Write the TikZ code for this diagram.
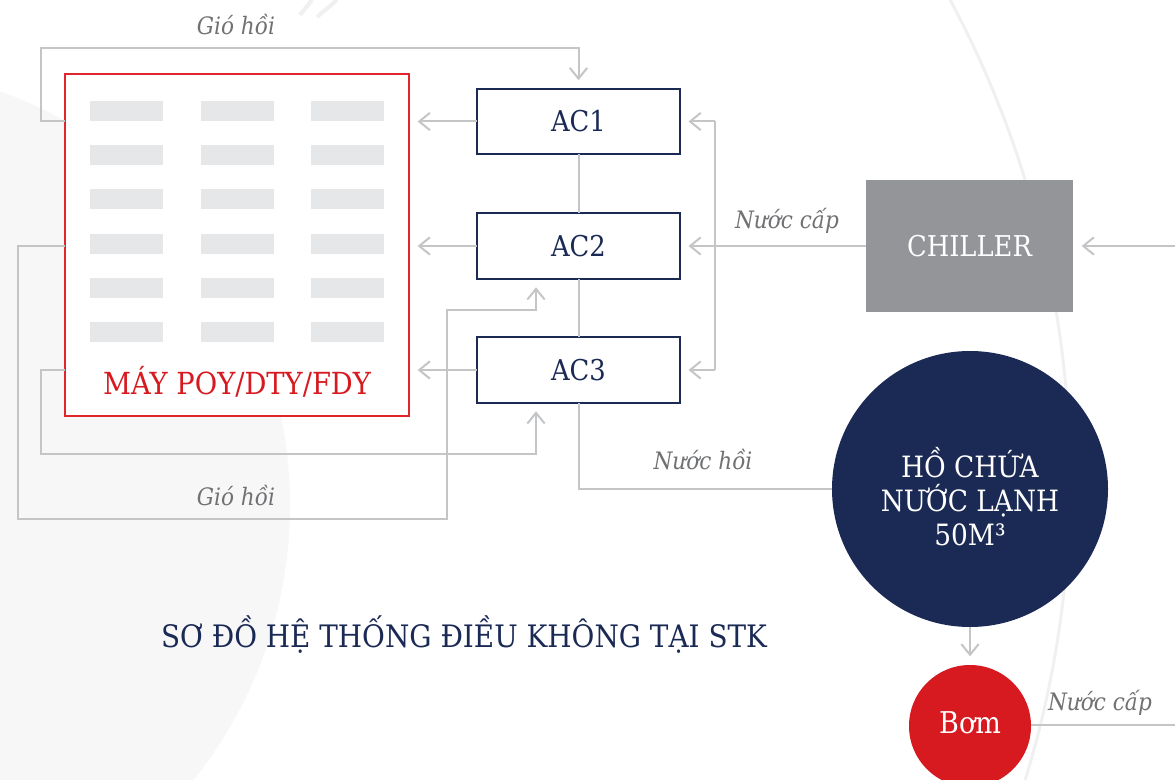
\documentclass[tikz,border=0pt]{standalone}
\usepackage{fontspec}
\setmainfont{DejaVu Serif}[FakeStretch=0.9]
\usetikzlibrary{arrows.meta,calc}
\definecolor{navy}{HTML}{1B2A55}
\definecolor{redc}{HTML}{D71920}
\definecolor{redbox}{HTML}{E1252D}
\definecolor{lineg}{HTML}{C4C5C7}
\definecolor{barg}{HTML}{E6E7E8}
\definecolor{chillg}{HTML}{939598}
\definecolor{labelg}{HTML}{707173}
\definecolor{bgg}{HTML}{F7F7F8}
\definecolor{arcg}{HTML}{F0F0F1}
\begin{document}
\begin{tikzpicture}[x=0.75pt,y=-0.75pt,
  conn/.style={draw=lineg,line width=1.5pt},
  arr/.style={conn,-{Straight Barb[length=8pt,width=13pt]},shorten >=6.5pt},
  acbox/.style={draw=navy,line width=1.7pt,fill=white,minimum width=152pt,minimum height=49pt,inner sep=0pt,outer sep=0pt,text=navy,font=\fontsize{21.5}{26}\selectfont},
  macbox/.style={draw=redbox,line width=1.5pt,fill=white,minimum width=258pt,minimum height=256.5pt,inner sep=0pt,outer sep=0pt},
  maytext/.style={text=redc,font=\fontsize{22.8}{26}\selectfont,inner sep=0pt},
  chillbox/.style={fill=chillg,minimum width=155.25pt,minimum height=99pt,inner sep=0pt,outer sep=0pt,text=white,font=\fontsize{21.5}{26}\selectfont},
  tank/.style={circle,fill=navy,minimum size=207pt,inner sep=0pt,outer sep=0pt},
  tanktext/.style={text=white,font=\fontsize{22}{26}\selectfont,inner sep=0pt},
  pump/.style={circle,fill=redc,minimum size=91.5pt,inner sep=0pt,outer sep=0pt},
  pumptext/.style={text=white,font=\fontsize{22.5}{26}\selectfont,inner sep=0pt},
  lbl/.style={text=labelg,font=\fontsize{18}{21}\itshape,inner sep=0pt},
  titletext/.style={text=navy,font=\fontsize{23.2}{28}\selectfont,inner sep=0pt}]
\useasboundingbox (0,0) rectangle (1175,780);
\clip (0,0) rectangle (1175,780);
\fill[white] (0,0) rectangle (1175,780);
% background decoration
\fill[bgg] (-150,505) circle[radius=330pt];
\draw[arcg,line width=2.2pt] (50,480) circle[radius=765pt];
\draw[arcg,line width=3pt] (312,0) -- (300,15);
\draw[arcg,line width=3pt] (337,0) -- (317,17);
% machine
\node[macbox] (may) at (237,245) {};
\foreach \r in {0,...,5}
  \foreach \c in {0,1,2}
    \fill[barg] (90+110.5*\c,101+44.2*\r) rectangle ++(73,20);
\node[maytext,anchor=base] (maylbl) at (237,395) {MÁY POY/DTY/FDY};
% AC units
\node[acbox] (ac1) at (578.5,121.5) {AC1};
\node[acbox] (ac2) at (578.5,246) {AC2};
\node[acbox] (ac3) at (578.5,370) {AC3};
% chiller, tank, pump
\node[chillbox] (chiller) at (969.5,246) {CHILLER};
\node[tank] (ho) at (970,489) {};
\node[tanktext,anchor=base] (ho1) at (970,478) {HỒ CHỨA};
\node[tanktext,anchor=base] (ho2) at (970,512) {NƯỚC LẠNH};
\node[tanktext,anchor=base] (ho3) at (970,546) {50M³};
\node[pump] (bom) at (970,726) {};
\node[pumptext,anchor=base] (bomlbl) at (970,733) {Bơm};
% free ends
\coordinate (rin) at (1175,246);
\coordinate (rout) at (1175,725);
\coordinate (jtop) at (715,121.5);
\coordinate (jbot) at (715,370);
% air supply to machine
\draw[arr] (ac1.west) -- (ac1.west -| may.east);
\draw[arr] (ac2.west) -- (ac2.west -| may.east);
\draw[arr] (ac3.west) -- (ac3.west -| may.east);
% air return
\draw[arr] (ac1.west -| may.west) -- (41,121.5) -- (41,48) -| (ac1.north);
\draw[arr] (ac2.west -| may.west) -- (18,246) -- (18,519) -- (447,519) -- (447,310) -| ($(ac2.south)+(-42.5,0)$);
\draw[arr] (ac3.west -| may.west) -- (41,370) -- (41,454) -| ($(ac3.south)+(-42.5,0)$);
% water
\draw[conn] (ac1.south) -- (ac2.north);
\draw[conn] (ac2.south) -- (ac3.north);
\draw[conn] (ac3.south) |- (ho.west);
\draw[arr] (chiller.west) -- (ac2.east);
\draw[conn] (jtop) -- (jbot);
\draw[arr] (jtop) -- (ac1.east);
\draw[arr] (jbot) -- (ac3.east);
\draw[arr] (rin) -- (chiller.east);
\draw[arr] (ho.south) -- (bom.north);
\draw[conn] (bom.east |- rout) -- (rout);
% labels
\node[lbl,anchor=base] (l1) at (236,35) {Gió hồi};
\node[lbl,anchor=base] (l2) at (236,505) {Gió hồi};
\node[lbl,anchor=base] (l3) at (787,229) {Nước cấp};
\node[lbl,anchor=base] (l4) at (703,470) {Nước hồi};
\node[lbl,anchor=base] (l5) at (1100,710) {Nước cấp};
\node[titletext,anchor=base] (title) at (464,647) {SƠ ĐỒ HỆ THỐNG ĐIỀU KHÔNG TẠI STK};
\end{tikzpicture}
\end{document}
